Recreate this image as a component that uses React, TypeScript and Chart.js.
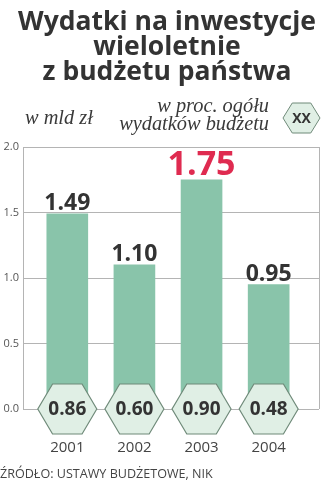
import React, { useEffect, useRef } from "react";
import { Chart, registerables } from "chart.js";

Chart.register(...registerables);

const years = ["2001", "2002", "2003", "2004"];
const spending = [1.49, 1.1, 1.75, 0.95];
const spendingLabels = ["1.49", "1.10", "1.75", "0.95"];
const shares = ["0.86", "0.60", "0.90", "0.48"];
const yTicks = [0, 0.5, 1.0, 1.5, 2.0];
const titleLines = ["Wydatki na inwestycje", "wieloletnie", "z budżetu państwa"];
const unitLabel = "w mld zł";
const shareLabel = ["w proc. ogółu", "wydatków budżetu"];
const legendLabel = "XX";
const sourceLabel = "ŹRÓDŁO: USTAWY BUDŻETOWE, NIK";
const highlightIndex = 2;

const BAR = "#89c4aa";
const HEX_FILL = "#e0efe5";
const HEX_STROKE = "#6f8a79";
const DARK = "#333333";
const RED = "#df2b50";
const GRID = "#b4b4b4";

function hexPath(ctx: CanvasRenderingContext2D, cx: number, cy: number, rx: number, ry: number) {
  ctx.beginPath();
  for (let k = 0; k < 6; k++) {
    const a = (Math.PI / 3) * k;
    const px = cx + rx * Math.cos(a);
    const py = cy + ry * Math.sin(a) / Math.sin(Math.PI / 3);
    if (k === 0) ctx.moveTo(px, py);
    else ctx.lineTo(px, py);
  }
  ctx.closePath();
}

function fitSize(ctx: CanvasRenderingContext2D, text: string, style: string, family: string, target: number) {
  ctx.font = `${style} 20px ${family}`;
  const w = ctx.measureText(text).width;
  return (20 * target) / w;
}

const decor = {
  id: "decor",
  beforeDatasetsDraw(chart: any) {
    const { ctx, chartArea } = chart;
    ctx.save();
    ctx.strokeStyle = GRID;
    ctx.lineWidth = 1;
    ctx.beginPath();
    ctx.moveTo(Math.round(chartArea.right) + 0.5, chartArea.top);
    ctx.lineTo(Math.round(chartArea.right) + 0.5, chartArea.bottom);
    ctx.stroke();
    ctx.restore();
  },
  afterDatasetsDraw(chart: any) {
    const { ctx } = chart;
    const xs = chart.scales.x;
    const ys = chart.scales.y;
    ctx.save();
    spending.forEach((v, i) => {
      const cx = xs.getPixelForValue(i);
      const top = ys.getPixelForValue(v);
      ctx.textAlign = "center";
      ctx.textBaseline = "alphabetic";
      if (i === highlightIndex) {
        ctx.fillStyle = RED;
        ctx.font = `bold 34px "Open Sans"`;
        ctx.fillText(spendingLabels[i], cx, top - 5);
      } else {
        ctx.fillStyle = DARK;
        ctx.font = `bold 23px "Open Sans"`;
        ctx.fillText(spendingLabels[i], cx, top - 4);
      }
    });
    const y0 = ys.getPixelForValue(0);
    shares.forEach((s, i) => {
      const cx = xs.getPixelForValue(i);
      hexPath(ctx, cx, y0, 29.5, 25);
      ctx.fillStyle = HEX_FILL;
      ctx.fill();
      ctx.strokeStyle = HEX_STROKE;
      ctx.lineWidth = 1.2;
      ctx.stroke();
      ctx.fillStyle = DARK;
      ctx.font = `bold 19px "Open Sans"`;
      ctx.textAlign = "center";
      ctx.textBaseline = "middle";
      ctx.fillText(s, cx, y0 + 1);
    });
    ctx.restore();
  },
  afterDraw(chart: any) {
    const { ctx } = chart;
    ctx.save();
    ctx.fillStyle = DARK;
    ctx.textAlign = "center";
    ctx.textBaseline = "alphabetic";
    const tSize = fitSize(ctx, titleLines[0], "bold", '"Open Sans"', 298);
    ctx.font = `bold ${tSize}px "Open Sans"`;
    const baselines = [30, 55, 80];
    titleLines.forEach((l, i) => ctx.fillText(l, 167, baselines[i]));
    ctx.fillStyle = "#3a3a3a";
    const sSize = fitSize(ctx, shareLabel[1], "italic", '"Liberation Serif"', 150);
    ctx.font = `italic ${sSize}px "Liberation Serif"`;
    ctx.textAlign = "left";
    ctx.fillText(unitLabel, 25, 124);
    ctx.textAlign = "right";
    ctx.fillText(shareLabel[0], 269, 112);
    ctx.fillText(shareLabel[1], 269, 130);
    hexPath(ctx, 301.5, 118, 18.5, 15);
    ctx.fillStyle = HEX_FILL;
    ctx.fill();
    ctx.strokeStyle = HEX_STROKE;
    ctx.lineWidth = 1;
    ctx.stroke();
    ctx.fillStyle = DARK;
    ctx.font = `bold 14px "Open Sans"`;
    ctx.textAlign = "center";
    ctx.textBaseline = "middle";
    ctx.fillText(legendLabel, 301.5, 119);
    ctx.fillStyle = "#444444";
    const srcSize = fitSize(ctx, sourceLabel, "normal", '"Open Sans"', 213);
    ctx.font = `normal ${srcSize}px "Open Sans"`;
    ctx.textAlign = "left";
    ctx.textBaseline = "alphabetic";
    ctx.fillText(sourceLabel, 0, 478);
    ctx.restore();
  },
};

export default function App() {
  const ref = useRef<HTMLCanvasElement>(null);
  useEffect(() => {
    if (!ref.current) return;
    const chart = new Chart(ref.current, {
      type: "bar",
      data: {
        datasets: [
          {
            data: spending.map((v, i) => ({ x: i, y: v })),
            backgroundColor: BAR,
            barThickness: 41,
          },
        ],
      },
      options: {
        animation: false,
        responsive: true,
        maintainAspectRatio: false,
        layout: { padding: { top: 147, bottom: 21, left: 0, right: 8 } },
        plugins: { legend: { display: false }, tooltip: { enabled: false }, title: { display: false } },
        scales: {
          x: {
            type: "linear",
            offset: false,
            min: -0.66,
            max: 3.75,
            grid: { display: false, drawTicks: false, offset: false },
            border: { display: false },
            afterBuildTicks: (s: any) => {
              s.ticks = years.map((_, i) => ({ value: i }));
            },
            afterFit: (s: any) => {
              s.height = 50;
            },
            ticks: {
              autoSkip: false,
              maxRotation: 0,
              padding: 30,
              color: "#444444",
              font: { family: '"Open Sans"', size: 15 },
              callback: (v: any) => years[v as number] ?? "",
            },
          },
          y: {
            min: 0,
            max: 2,
            afterBuildTicks: (s: any) => {
              s.ticks = yTicks.map((v) => ({ value: v }));
            },
            afterFit: (s: any) => {
              s.width = 23;
            },
            grid: { color: GRID, lineWidth: 1, drawTicks: false },
            border: { display: true, color: GRID },
            ticks: {
              padding: 4,
              color: "#555555",
              font: { family: '"Open Sans"', size: 11 },
              callback: (v: any) => Number(v).toFixed(1),
            },
          },
        },
      },
      plugins: [decor],
    });
    return () => chart.destroy();
  }, []);
  return (
    <div style={{ position: "absolute", left: 0, top: 0, width: 327, height: 480 }}>
      <canvas ref={ref} />
    </div>
  );
}
